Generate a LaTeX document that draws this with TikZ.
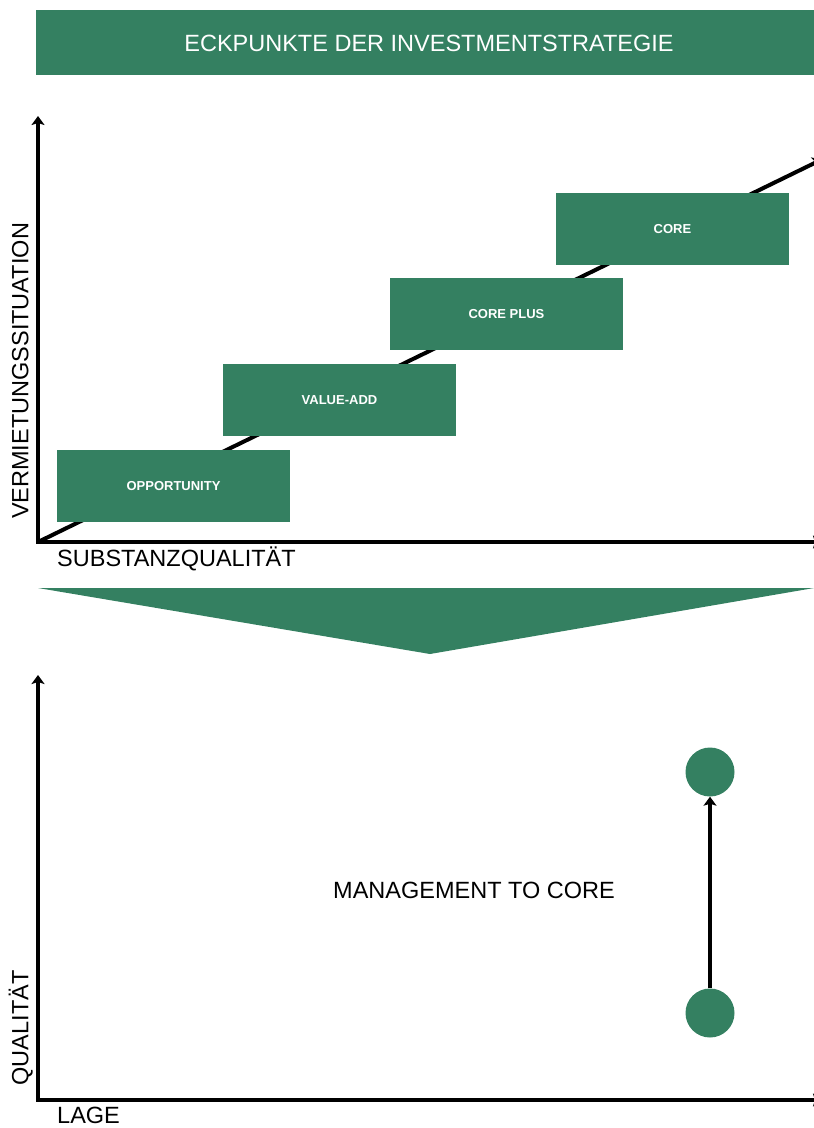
\documentclass[tikz,border=0pt]{standalone}
\usepackage{fontspec}
\setmainfont{Liberation Sans}
\usetikzlibrary{arrows.meta}
\definecolor{brandgreen}{RGB}{52,128,97}
\begin{document}
\begin{tikzpicture}[x=1pt,y=-1pt,
  axis/.style={line width=4pt,-{Stealth[length=9pt,width=13pt,inset=2pt]}},
  boxnode/.style={fill=brandgreen,draw=none,minimum width=233pt,minimum height=72pt,inner sep=0pt,
    text=white,font=\fontsize{13}{15}\bfseries},
  biglbl/.style={inner sep=0pt,font=\fontsize{23.5}{28}\selectfont,text height=16.9pt,text depth=0pt},
  dotnode/.style={circle,fill=brandgreen,draw=none,minimum size=49pt,inner sep=0pt}]
\useasboundingbox (0,0) rectangle (814,1128);
% title
\node[fill=brandgreen,minimum width=786pt,minimum height=65pt,inner sep=0pt,anchor=north west] (title) at (36,10) {};
\node[biglbl,text=white] (titletext) at (429,43.5) {ECKPUNKTE DER INVESTMENTSTRATEGIE};
% upper chart
\coordinate (o1) at (38,542);
\coordinate (ytop1) at (38,116);
\coordinate (xend1) at (822,542);
\coordinate (dend) at (822,159.4);
\draw[axis,line cap=butt] (o1) -- (dend);
\draw[axis] (o1) -- (ytop1);
\draw[axis] ([xshift=-2pt]o1) -- (xend1);
\node[boxnode] (opp) at (173.5,486) {OPPORTUNITY};
\node[boxnode] (va) at (339.5,400) {VALUE-ADD};
\node[boxnode] (cp) at (506.5,314) {CORE PLUS};
\node[boxnode] (core) at (672.5,229) {CORE};
\node[biglbl,rotate=90] (ylab1) at (20,371) {VERMIETUNGSSITUATION};
\node[biglbl,anchor=west] (xlab1) at (57,558.5) {SUBSTANZQUALITÄT};
% funnel
\coordinate (tl) at (38,588);
\coordinate (tr) at (814,588);
\coordinate (tb) at (430,654);
\fill[brandgreen] (tl) -- (tr) -- (tb) -- cycle;
% lower chart
\coordinate (o2) at (38,1100);
\coordinate (ytop2) at (38,675);
\coordinate (xend2) at (822,1100);
\draw[axis] (o2) -- (ytop2);
\draw[axis] ([xshift=-2pt]o2) -- (xend2);
\node[dotnode] (dtop) at (710,772) {};
\node[dotnode] (dbot) at (710,1013) {};
\draw[axis,line width=3.5pt] (dbot.north) -- (dtop.south);
\node[biglbl] (mtc) at (474,890) {MANAGEMENT TO CORE};
\node[biglbl,rotate=90] (ylab2) at (20,1028) {QUALITÄT};
\node[biglbl,anchor=west] (xlab2) at (57,1115.5) {LAGE};
\end{tikzpicture}
\end{document}
